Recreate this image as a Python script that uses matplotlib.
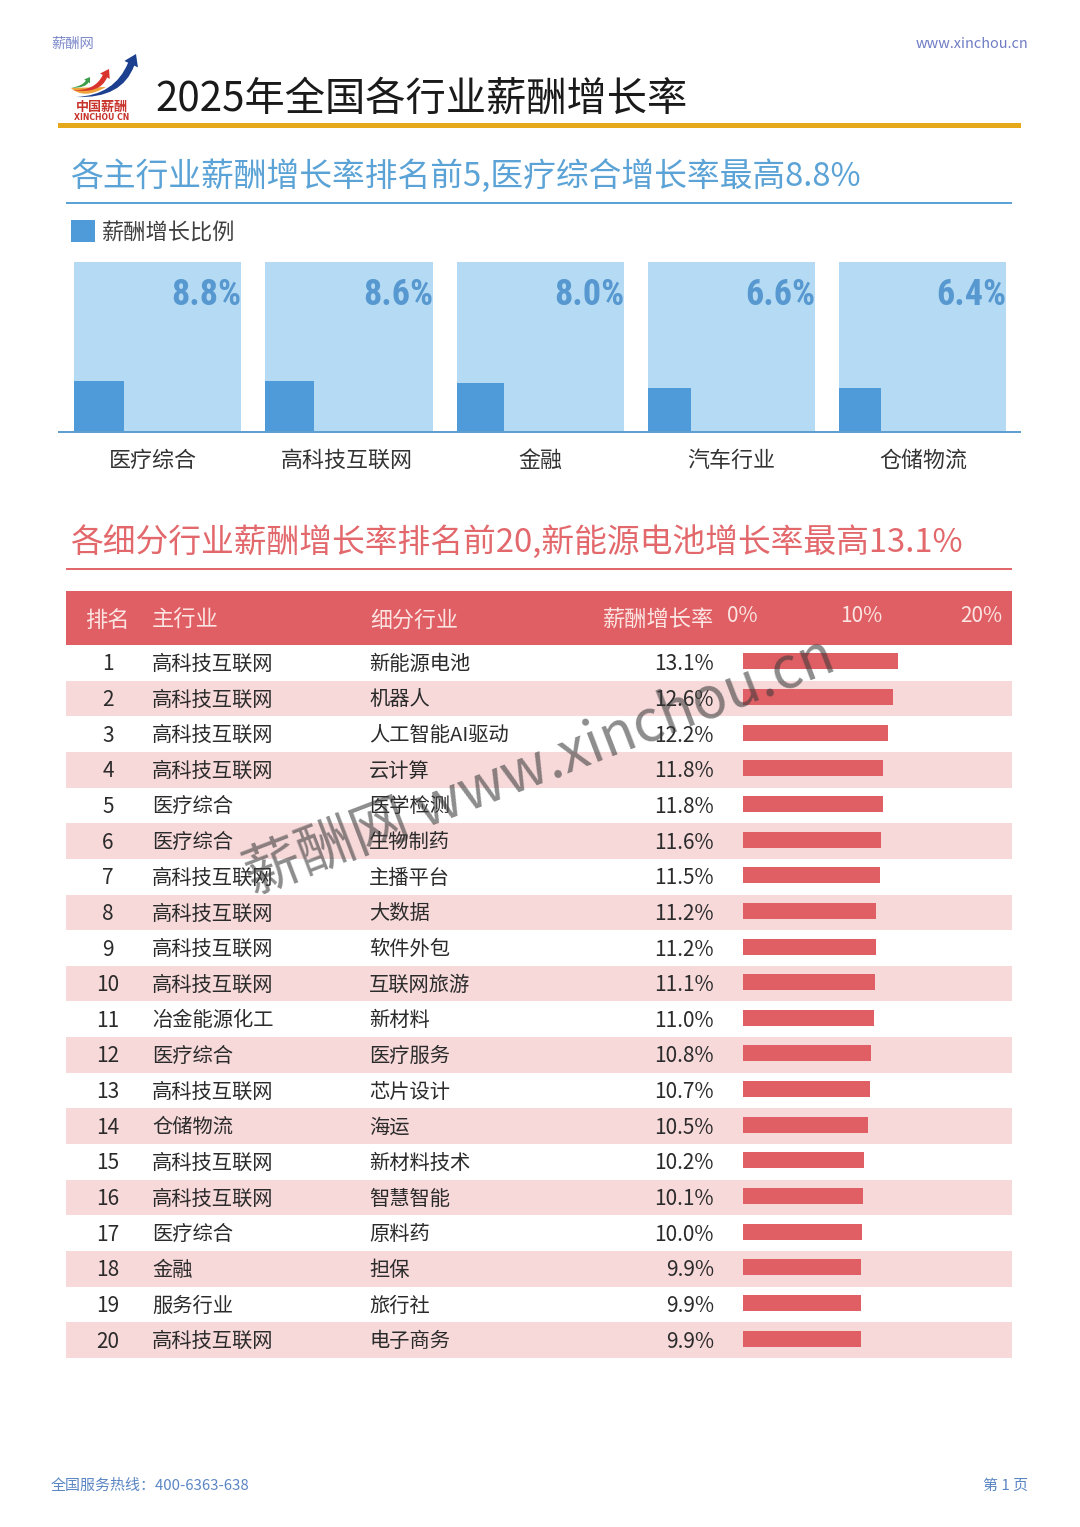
import numpy as np
import matplotlib
matplotlib.use("Agg")
import matplotlib.pyplot as plt
from matplotlib import font_manager as fm
from matplotlib.patches import PathPatch, Rectangle
from matplotlib.path import Path

plt.rcParams['font.family'] = ['Noto Sans CJK SC', 'DejaVu Sans']

# ---- data ----
main_categories = ['医疗综合', '高科技互联网', '金融', '汽车行业', '仓储物流']
main_values = [8.8, 8.6, 8.0, 6.6, 6.4]
ranks = list(range(1, 21))
sectors = ['高科技互联网', '高科技互联网', '高科技互联网', '高科技互联网', '医疗综合', '医疗综合', '高科技互联网',
           '高科技互联网', '高科技互联网', '高科技互联网', '冶金能源化工', '医疗综合', '高科技互联网', '仓储物流',
           '高科技互联网', '高科技互联网', '医疗综合', '金融', '服务行业', '高科技互联网']
subsectors = ['新能源电池', '机器人', '人工智能AI驱动', '云计算', '医学检测', '生物制药', '主播平台', '大数据',
              '软件外包', '互联网旅游', '新材料', '医疗服务', '芯片设计', '海运', '新材料技术', '智慧智能',
              '原料药', '担保', '旅行社', '电子商务']
sub_values = [13.1, 12.6, 12.2, 11.8, 11.8, 11.6, 11.5, 11.2, 11.2, 11.1,
              11.0, 10.8, 10.7, 10.5, 10.2, 10.1, 10.0, 9.9, 9.9, 9.9]
axis_ticks = [0, 10, 20]

W, H = 1080, 1527
fig = plt.figure(figsize=(W / 100, H / 100), dpi=100, facecolor='white')

def axpx(x0, y0, x1, y1, **kw):
    return fig.add_axes([x0 / W, 1 - y1 / H, (x1 - x0) / W, (y1 - y0) / H], **kw)

BLUE_LT, BLUE, BLUE_TXT = '#b5daf3', '#4f9ad8', '#5ba3d6'
RED, PINK = '#e05f64', '#f7d9da'
INK = '#2b2b2b'

# ---- top pictorial panels: area-proportional square on sqrt scales ----
panel_x = [(74, 241), (265, 433), (457, 624), (648, 815), (839, 1006)]
sq = (lambda v: np.sqrt(np.maximum(v, 0)), lambda v: np.square(v))
for (x0, x1), cat, v in zip(panel_x, main_categories, main_values):
    ax = axpx(x0, 262, x1, 431)
    ax.set_xscale('function', functions=sq)
    ax.set_yscale('function', functions=sq)
    ax.bar([0], [100], width=100, align='edge', color=BLUE_LT, linewidth=0)
    ax.bar([0], [v], width=v, align='edge', color=BLUE, linewidth=0)
    ax.set_xlim(0, 100)
    ax.set_ylim(0, 100)
    ax.axis('off')

# ---- table bands and bars ----
tb = axpx(66, 645, 1012, 1358)
tb.barh(np.array(ranks) - 1, [1 if r % 2 == 0 else 0 for r in ranks], height=1, left=0,
        color=PINK, linewidth=0, align='edge')
tb.set_xlim(0, 1)
tb.set_ylim(20, 0)
tb.axis('off')

PX_PER_PCT = 11.87
br = axpx(743, 643.5, 1012, 1356.5)
br.patch.set_alpha(0)
br.barh(np.array(ranks) - 0.5, sub_values, height=0.45, color=RED, linewidth=0)
br.set_xlim(0, (1012 - 743) / PX_PER_PCT)
br.set_ylim(20, 0)
br.axis('off')

# ---- overlay: texts and decoration in page pixels ----
ov = axpx(0, 0, W, H, zorder=5)
ov.set_xlim(0, W)
ov.set_ylim(H, 0)
ov.axis('off')
ov.patch.set_alpha(0)

def T(x, y, s, size, color=INK, ha='left', **kw):
    return ov.text(x, y, s, fontsize=size, color=color, ha=ha, va='center', **kw)

T(51, 44, '薪酬网', 10.3, '#7f8bcb')
T(1028, 44, 'www.xinchou.cn', 10.4, '#6f7cc4', ha='right')
T(155, 99, '2025年全国各行业薪酬增长率', 29, '#1a1a1a')

# logo
def swoosh(tail, ctrl, tip, w, color):
    tail, ctrl, tip = map(np.array, (tail, ctrl, tip))
    d = tip - ctrl
    d = d / np.hypot(*d)
    n = np.array([-d[1], d[0]])
    neck = tip - d * w * 1.5
    verts = [tail, ctrl - n * w * .2, neck - n * w * .45, neck - n * w, tip, neck + n * w,
             neck + n * w * .45, ctrl + n * w * .9, tail, tail]
    codes = [Path.MOVETO, Path.CURVE3, Path.CURVE3, Path.LINETO, Path.LINETO, Path.LINETO,
             Path.LINETO, Path.CURVE3, Path.CURVE3, Path.CLOSEPOLY]
    ov.add_patch(PathPatch(Path(verts, codes), fc=color, ec='none'))

swoosh((76, 97), (116, 96), (136, 54), 7.5, '#1c3f8f')
ov.add_patch(PathPatch(Path([(71, 88), (84, 100), (106, 87), (71, 88)],
                            [Path.MOVETO, Path.CURVE3, Path.CURVE3, Path.CLOSEPOLY]),
                       fc='#f0a23a', ec='none'))
swoosh((72, 90), (96, 92), (109, 69), 5.5, '#d9342b')
swoosh((71, 88), (84, 86), (90, 77), 3.5, '#3e9e4a')
T(101.5, 106.5, '中国薪酬', 9.4, '#c8342c', ha='center', fontweight='bold')
T(101.5, 117, 'XINCHOU CN', 5.6, '#c8342c', ha='center', fontweight='bold', family='DejaVu Sans')

ov.add_patch(Rectangle((58, 123), 963, 5, fc='#e5a81a', ec='none'))

T(70, 176, '各主行业薪酬增长率排名前5,医疗综合增长率最高8.8%', 23.6, BLUE_TXT)
ov.add_patch(Rectangle((66, 202), 946, 2, fc='#5ba3d6', ec='none', snap=True))
ov.add_patch(Rectangle((71, 220), 24, 22, fc=BLUE, ec='none'))
T(102, 233, '薪酬增长比例', 16, '#404040')
ov.add_patch(Rectangle((58, 430.5), 963, 2, fc='#5f9fcf', ec='none'))

# narrow face for the big value labels, first one that is installed
VALUE_FONT, VALUE_SIZE = 'Roboto', 23.5
for fam, size in [('Liberation Sans Narrow', 26), ('Roboto Condensed', 26), ('Open Sans Condensed', 26)]:
    try:
        fm.findfont(fam, fallback_to_default=False)
        VALUE_FONT, VALUE_SIZE = fam, size
        break
    except ValueError:
        pass

label_cx = [153, 347, 540, 731, 923]
for (x0, x1), cx, cat, v in zip(panel_x, label_cx, main_categories, main_values):
    ov.text(x1, 295, f'{v:.1f}%', fontsize=VALUE_SIZE, color='#5698cf', ha='right', va='center',
            family=VALUE_FONT, fontweight='bold')
    T(cx, 461, cat, 15.8, '#333333', ha='center')

T(70, 542, '各细分行业薪酬增长率排名前20,新能源电池增长率最高13.1%', 23.6, '#e2686c')
ov.add_patch(Rectangle((66, 568), 946, 2, fc='#e2686c', ec='none', snap=True))

ov.add_patch(Rectangle((66, 591), 946, 54, fc=RED, ec='none'))
HDR = '#fbe4e2'
T(107, 620.5, '排名', 16, HDR, ha='center')
T(152, 620.5, '主行业', 16, HDR)
T(370, 620.5, '细分行业', 15.8, HDR)
T(714, 620.5, '薪酬增长率', 16, HDR, ha='right')
for x, t in zip([742, 861, 981], axis_ticks):
    T(x, 615.5, f'{t}%', 15, HDR, ha='center')

row_h = (1358 - 645) / 20
for i, (r, a, b, v) in enumerate(zip(ranks, sectors, subsectors, sub_values)):
    y = 645 + row_h * (i + .5) + 1.5
    T(108, y, str(r), 15, ha='center')
    T(152, y, a, 14.6)
    T(369, y, b, 14.6)
    T(714, y, f'{v:.1f}%', 15, ha='right')

# watermark
ov.text(540, 768, '薪酬网 www.xinchou.cn', fontsize=41, color='#3a3a3a', alpha=.58, rotation=21,
        ha='center', va='center', rotation_mode='anchor', zorder=6)

T(51, 1485.5, '全国服务热线：400-6363-638', 10.8, '#5b86c4')
T(1028, 1485.5, '第 1 页', 10.8, '#5b86c4', ha='right')

fig.savefig('out.png', dpi=100, facecolor='white')
